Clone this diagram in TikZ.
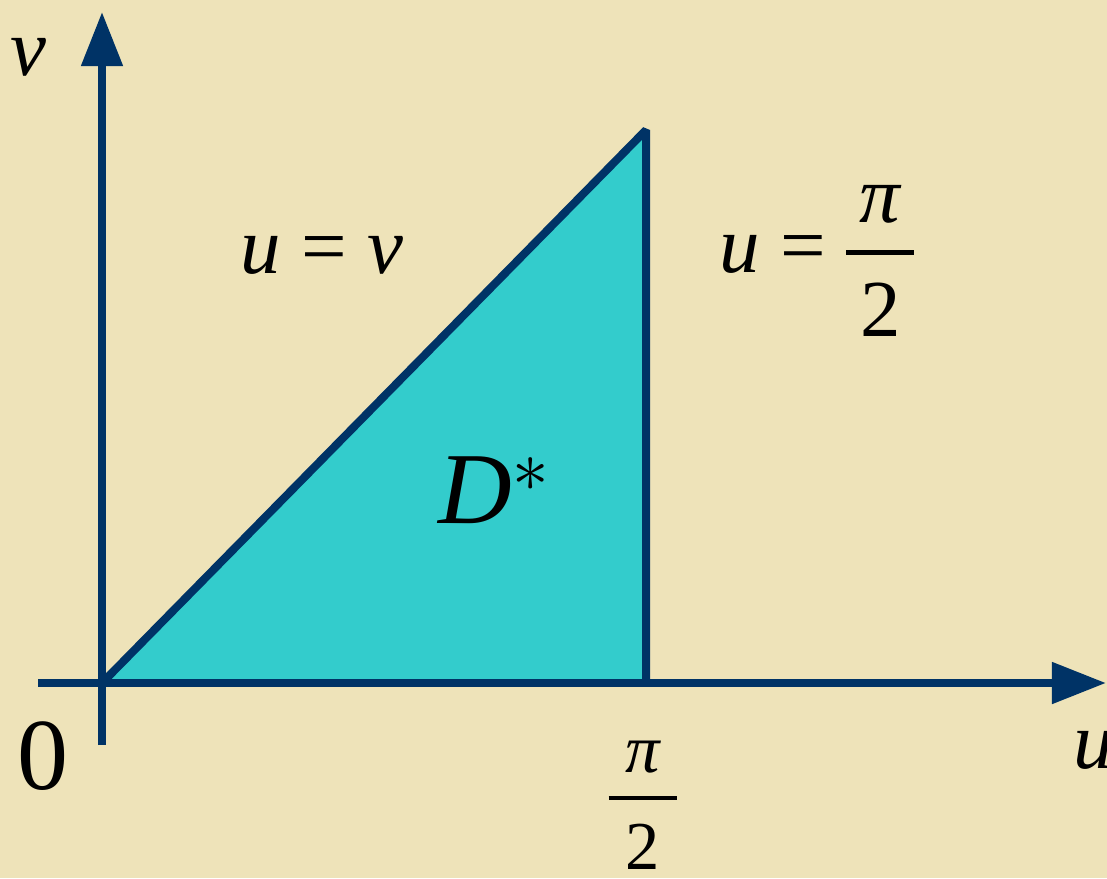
\documentclass[tikz,border=0pt]{standalone}
\usepackage{amsmath,amssymb}
\usepackage{fontspec}
\setmainfont{Liberation Serif}
\usepackage{tikz}
\usepackage{xcolor}
\usetikzlibrary{arrows.meta,positioning}
\definecolor{paper}{HTML}{EEE3B9}
\definecolor{axisnavy}{HTML}{003366}
\definecolor{regioncyan}{HTML}{33CCCC}
% pi over 2, stacked by hand (optional arg: side padding of the bar)
\newcommand{\halfpi}[1][0.16em]{\raisebox{-0.8em}{\vbox{\offinterlineskip\halign{\hfil##\hfil\cr
  \hspace{#1}\textit{π}\hspace{#1}\cr
  \noalign{\kern0.335em\hrule height1.3pt\kern0.35em}
  2\cr}}}}
\tikzset{
  every picture/.append style={line cap=butt,line join=bevel},
  dom axis/.style={axisnavy,line width=2.28pt,-{Triangle[length=0.54cm,width=0.4cm]}},
  dom edge/.style={axisnavy,line width=2.28pt},
  dom region/.style={fill=regioncyan},
  dom label/.style={inner sep=0pt,font=\fontsize{23}{28}\selectfont},
  dom small/.style={inner sep=0pt,font=\fontsize{19.5}{24}\selectfont},
  dom big/.style={inner sep=0pt,font=\fontsize{29}{35}\selectfont}
}

\begin{document}
\begin{tikzpicture}[x=0.01cm, y=0.01cm]
  \useasboundingbox (0,0) rectangle (1107,878);
  \clip (0,0) rectangle (1107,878);
  \fill[paper] (0,0) rectangle (1107,878);
  % region D*
  \coordinate (O) at (102,195);
  \coordinate (A) at (646,195);
  \coordinate (B) at (646,748);
  \fill[dom region] (O) -- (A) -- (B) -- cycle;
  % axes
  \coordinate (ustart) at (38,195);
  \coordinate (uend) at (1106,195);
  \coordinate (vstart) at (102,133);
  \coordinate (vend) at (102,866);
  \draw[dom axis] (ustart) -- (uend);
  \draw[dom axis] (vstart) -- (vend);
  \draw[dom edge] (O) -- (B) -- (A);
  % labels
  \node[dom label] (vlab) at (28,821) {\textit{v}};
  \node[dom label,anchor=base west] (ulab) at (1073,110) {\textit{u}};
  \node[dom big] (zero) at (43,122) {0};
  \node[dom small,anchor=base] (pihalf) at (643,63) {\halfpi[0.24em]};
  \node[dom label,anchor=base west] (diag) at (240,605) {\textit{u} = \textit{v}};
  \node[dom label,anchor=base west] (vert) at (719,606) {\textit{u} = \halfpi};
  \node[dom big,anchor=base west] (dstar) at (438,355) {\textit{D}$^{*}$};
\end{tikzpicture}
\end{document}
